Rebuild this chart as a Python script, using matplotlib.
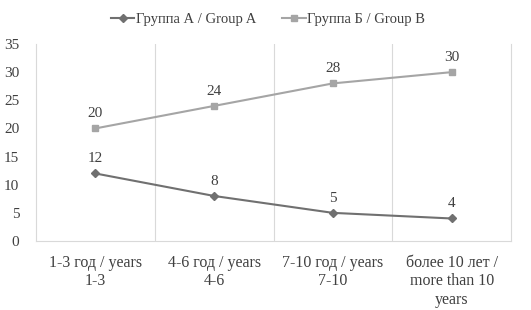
import matplotlib
matplotlib.use("Agg")
import matplotlib.pyplot as plt
import numpy as np

categories = ["1-3 год / years\n1-3", "4-6 год / years\n4-6", "7-10 год / years\n7-10",
              "более 10 лет /\nmore than 10\nyears"]
group_a = [12, 8, 5, 4]
group_b = [20, 24, 28, 30]
yticks = [0, 5, 10, 15, 20, 25, 30, 35]

plt.rcParams['font.family'] = ['Liberation Serif', 'DejaVu Serif']

fig = plt.figure(figsize=(5.31, 3.10), dpi=100)
ax = fig.add_axes([36 / 531, 1 - 241 / 310, (511 - 36) / 531, (241 - 44) / 310])

x = np.arange(len(categories))
col_a = '#707070'
col_b = '#a5a5a5'
ax.plot(x, group_a, color=col_a, marker='D', markersize=4, lw=1.5, label='Группа А / Group A')
ax.plot(x, group_b, color=col_b, marker='s', markersize=5, lw=1.5, label='Группа Б / Group B')

for xi, v in zip(x, group_a):
    ax.annotate(str(v), (xi, v), xytext=(0, 6), textcoords='offset points',
                ha='center', va='bottom', fontsize=11, color='#404040')
for xi, v in zip(x, group_b):
    ax.annotate(str(v), (xi, v), xytext=(0, 6), textcoords='offset points',
                ha='center', va='bottom', fontsize=11, color='#404040')

ax.set_xlim(-0.5, len(categories) - 0.5)
ax.set_ylim(0, 35)
ax.set_yticks(yticks)
ax.set_xticks(x)
ax.set_xticklabels(categories, fontsize=11.5, color='#404040', linespacing=1.2)
ax.set_xticks(np.arange(0.5, len(categories) - 0.5, 1), minor=True)
ax.tick_params(axis='x', which='both', length=0, pad=10)
ax.tick_params(axis='y', length=0, labelsize=11, labelcolor='#404040', pad=12)
ax.grid(axis='x', which='minor', color='#d9d9d9', lw=0.8)

for s in ['left', 'right', 'bottom']:
    ax.spines[s].set_color('#d9d9d9')
    ax.spines[s].set_linewidth(0.8)
ax.spines['top'].set_visible(False)

fig.legend(loc='upper center', bbox_to_anchor=(0.505, 1.0), ncol=2, frameon=False,
           fontsize=10.5, handlelength=1.6, columnspacing=1.8, handletextpad=0.1,
           labelcolor='#404040')

fig.savefig('out.png', dpi=100)
